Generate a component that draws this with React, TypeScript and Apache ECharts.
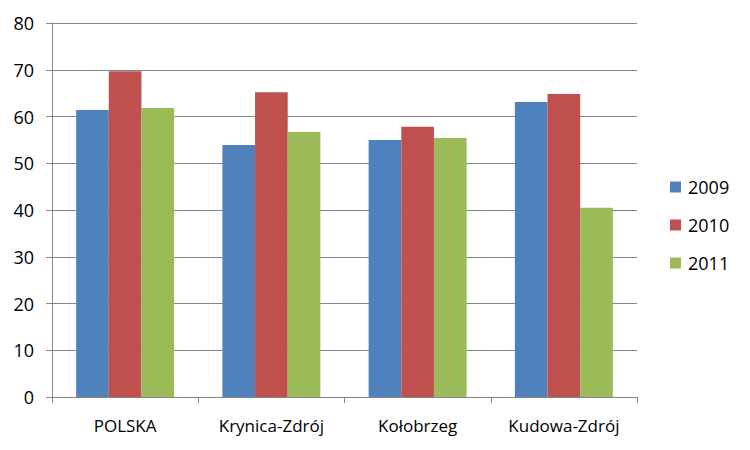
import React, { useEffect, useRef } from "react";
import * as echarts from "echarts";

const categories = ["POLSKA", "Krynica-Zdrój", "Kołobrzeg", "Kudowa-Zdrój"];
const seriesNames = ["2009", "2010", "2011"];
const values2009 = [61.4, 53.9, 55.0, 63.1];
const values2010 = [69.7, 65.2, 57.8, 64.8];
const values2011 = [61.8, 56.7, 55.4, 40.5];
const colors = ["#4F81BD", "#C0504D", "#9BBB59"];

export default function App() {
  const ref = useRef<HTMLDivElement>(null);
  useEffect(() => {
    if (!ref.current) return;
    const chart = echarts.init(ref.current, null, { renderer: "svg" });
    const data = [values2009, values2010, values2011];
    const font = "'Open Sans', 'Noto Sans', sans-serif";
    chart.setOption({
      animation: false,
      textStyle: { fontFamily: font },
      grid: { left: 52, right: 113, top: 23, bottom: 53, containLabel: false },
      legend: {
        orient: "vertical",
        left: 665,
        top: 173,
        itemWidth: 11,
        itemHeight: 11,
        itemGap: 20,
        icon: "rect",
        data: seriesNames,
        textStyle: { fontSize: 18, color: "#000", fontFamily: font, padding: [0, 0, 0, 2] },
      },
      xAxis: {
        type: "category",
        data: categories,
        axisLine: { lineStyle: { color: "#868686", width: 1 } },
        axisTick: { show: true, interval: 0, length: 6, alignWithLabel: false, lineStyle: { color: "#868686" } },
        axisLabel: { interval: 0, hideOverlap: false, fontSize: 17, color: "#000", margin: 20, fontFamily: font },
      },
      yAxis: {
        type: "value",
        min: 0,
        max: 80,
        interval: 10,
        axisLine: { show: true, lineStyle: { color: "#868686", width: 1 } },
        axisTick: { show: true, length: 6, lineStyle: { color: "#868686" } },
        splitLine: { lineStyle: { color: "#868686", width: 1 } },
        axisLabel: { fontSize: 18, color: "#000", margin: 18, fontFamily: font },
      },
      series: seriesNames.map((name, i) => ({
        name,
        type: "bar",
        data: data[i],
        itemStyle: { color: colors[i] },
        barGap: "0%",
        barCategoryGap: "33%",
      })),
    });
    return () => chart.dispose();
  }, []);
  return <div ref={ref} style={{ width: 750, height: 450, position: "absolute", left: 0, top: 0 }} />;
}
